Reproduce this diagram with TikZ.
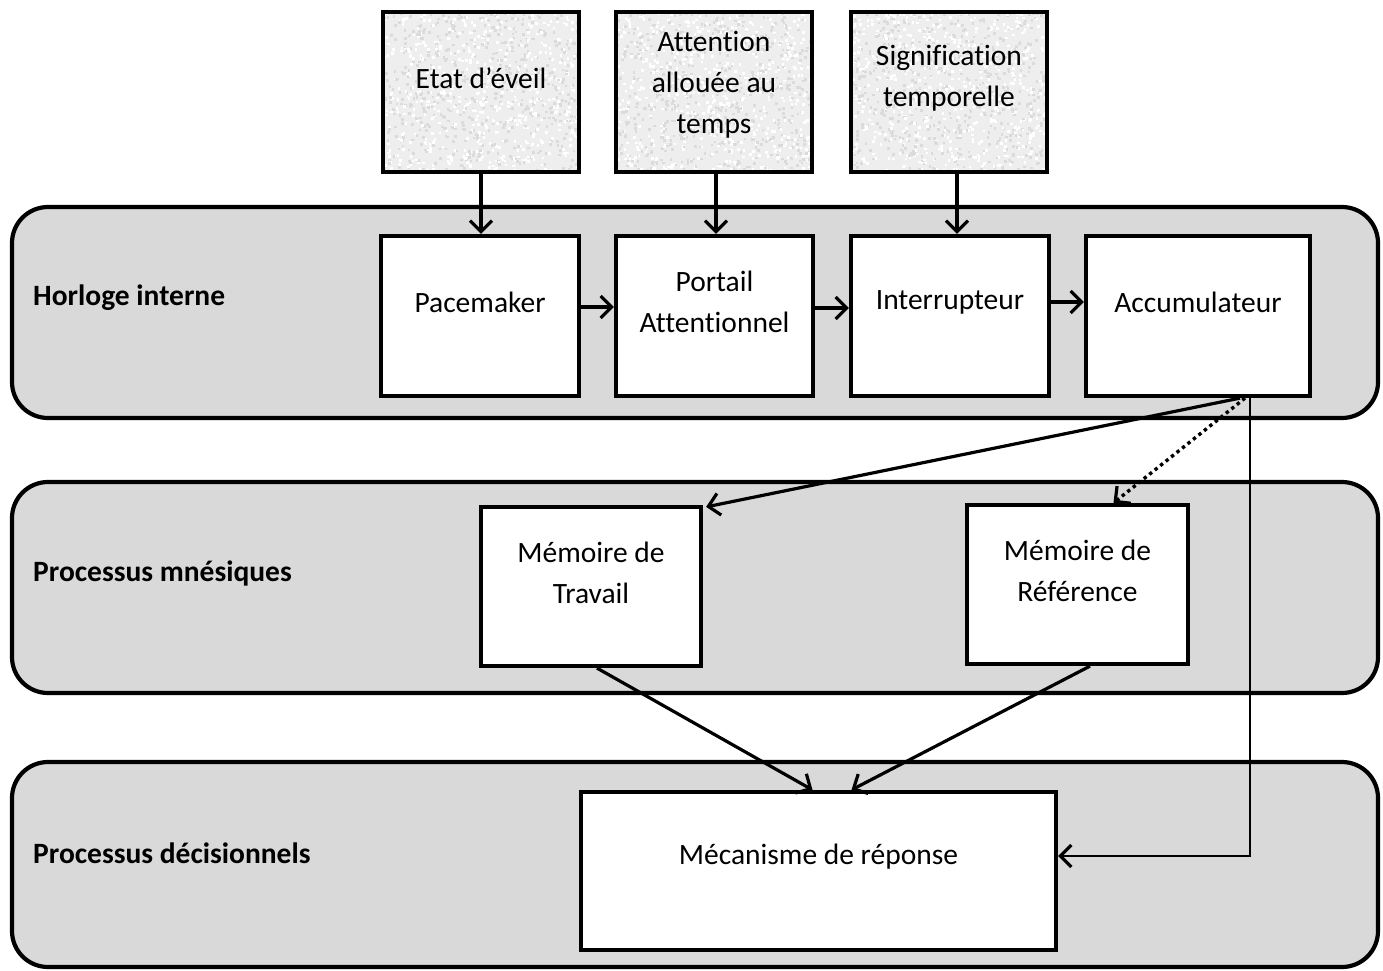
\documentclass[tikz,border=0pt]{standalone}
\usepackage{fontspec}
\setmainfont{Carlito}[Ligatures={NoCommon}]
\usetikzlibrary{arrows.meta}

\tikzset{
  band/.style={draw=black, line width=4.2pt, fill=bandgray, rounded corners=36pt,
    rectangle, inner sep=0pt},
  box/.style={draw=black, line width=4.2pt, fill=white, rectangle, inner sep=0pt},
  factor/.style={draw=black, line width=4.2pt, rectangle, inner sep=0pt},
  txt/.style={font=\fontsize{29.5}{41}\selectfont, align=center, inner sep=0pt},
  lbl/.style={font=\fontsize{29.5}{41}\selectfont\bfseries, anchor=west, inner sep=0pt},
  arr/.style={line width=3.2pt, -{Straight Barb[length=11pt,width=22pt]}},
  dotarr/.style={line width=3.4pt, dash pattern=on 3.4pt off 3.6pt,
    -{Straight Barb[length=11pt,width=22pt,line width=3.2pt]}},
  thinarr/.style={line width=2.6pt, -{Straight Barb[length=11pt,width=22pt,line width=3.2pt]}},
}
\definecolor{bandgray}{HTML}{D9D9D9}
\definecolor{speckbase}{HTML}{EEEEEE}

% grainy fill of a rectangle: #1,#2 = top left corner, #3,#4 = width, height
\newcommand{\speckfill}[4]{%
  \begin{scope}
    \clip (#1,#2) rectangle ++(#3,#4);
    \fill[speckbase] (#1,#2) rectangle ++(#3,#4);
    \foreach \k in {1,...,1100}{%
      \pgfmathsetmacro{\px}{#1+rnd*#3}%
      \pgfmathsetmacro{\py}{#2+rnd*#4}%
      \pgfmathsetmacro{\rs}{rnd}%
      \ifdim\rs pt<0.5pt
        \fill[gray!28] (\px,\py) rectangle ++(2.6,2.6);
      \else
        \fill[white] (\px,\py) rectangle ++(2.6,2.6);
      \fi
    }
  \end{scope}%
}

\begin{document}
\begin{tikzpicture}[x=1pt, y=-1pt]
  \pgfmathsetseed{4217}
  \useasboundingbox (0,0) rectangle (1383,971);

  % the three levels
  \node[band, minimum width=1366pt, minimum height=211pt] (bclock) at (695,312.5) {};
  \node[band, minimum width=1366pt, minimum height=211pt] (bmem) at (695,587.5) {};
  \node[band, minimum width=1366pt, minimum height=205pt] (bdec) at (695,864.5) {};

  \node[lbl] (lclock) at (33,298) {Horloge interne};
  \node[lbl] (lmem) at (33,573) {Processus mnésiques};
  \node[lbl] (ldec) at (33,853) {Processus décisionnels};

  % influencing factors
  \speckfill{383}{12}{196}{160}
  \speckfill{616}{12}{196}{160}
  \speckfill{851}{12}{196}{160}
  \node[factor, minimum width=196pt, minimum height=160pt] (etat) at (481,92) {};
  \node[factor, minimum width=196pt, minimum height=160pt] (attn) at (714,92) {};
  \node[factor, minimum width=196pt, minimum height=160pt] (signif) at (949,92) {};
  \node[txt] (etat-t) at (481,78) {Etat d’éveil};
  \node[txt] (attn-t) at (714,85) {Attention\\allouée au\\temps};
  \node[txt] (signif-t) at (949,78) {Signification\\temporelle};

  % internal clock
  \node[box, minimum width=198pt, minimum height=160pt] (pace) at (480,316) {};
  \node[box, minimum width=197pt, minimum height=160pt] (gate) at (714.5,316) {};
  \node[box, minimum width=198pt, minimum height=160pt] (switch) at (950,316) {};
  \node[box, minimum width=224pt, minimum height=160pt] (accum) at (1198,316) {};
  \node[txt] (pace-t) at (480,302) {Pacemaker};
  \node[txt] (gate-t) at (714.5,301.5) {Portail\\Attentionnel};
  \node[txt] (switch-t) at (950,302) {Interrupteur};
  \node[txt] (accum-t) at (1198,302) {Accumulateur};

  % memory
  \node[box, minimum width=220pt, minimum height=159pt] (work) at (591,586.5) {};
  \node[box, minimum width=221pt, minimum height=159pt] (ref) at (1077.5,584.5) {};
  \node[txt] (work-t) at (591,573) {Mémoire de\\Travail};
  \node[txt] (ref-t) at (1077.5,571) {Mémoire de\\Référence};

  % decision
  \node[box, minimum width=475pt, minimum height=158pt] (resp) at (818.5,871) {};
  \node[txt] (resp-t) at (818.5,857) {Mécanisme de réponse};

  % connectors
  \draw[arr] (etat.south) -- (etat.south |- pace.north);
  \draw[arr] ([xshift=2pt]attn.south) -- ([xshift=2pt]attn.south |- gate.north);
  \draw[arr] ([xshift=8pt]signif.south) -- ([xshift=8pt]signif.south |- switch.north);

  \draw[arr] ([yshift=9pt]pace.east) -- ([yshift=9pt]gate.west);
  \draw[arr] ([yshift=8pt]gate.east) -- ([yshift=8pt]switch.west);
  \draw[arr] ([yshift=14pt]switch.east) -- ([yshift=14pt]accum.west);

  \draw[arr] ([xshift=42pt]accum.south) -- ([xshift=3pt,yshift=-2pt]work.north east);
  \draw[dotarr] ([xshift=47pt]accum.south) -- ([xshift=36pt]ref.north);
  \draw[thinarr] ([xshift=52pt]accum.south) |- ([yshift=15pt]resp.east);

  \draw[arr] ([xshift=6pt]work.south) -- ([xshift=-6pt]resp.north);
  \draw[arr] ([xshift=12.5pt]ref.south) -- ([xshift=33pt]resp.north);
\end{tikzpicture}
\end{document}
